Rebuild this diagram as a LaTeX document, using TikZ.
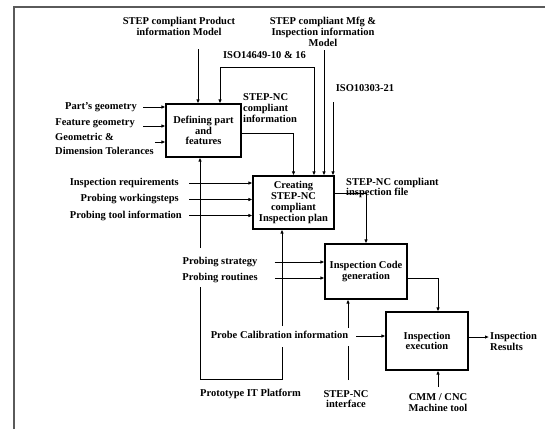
\documentclass[tikz,border=0pt]{standalone}
\usepackage{fontspec}
\setmainfont{Liberation Serif}
\usetikzlibrary{arrows.meta}

\tikzset{
  txt/.style={font=\bfseries\fontsize{10.5}{10.8}\selectfont, inner sep=1pt, align=center},
  stage/.style={txt, draw, line width=1.1pt, inner sep=0pt},
  flow/.style={line width=0.9pt, -{Latex[length=4pt,width=3.5pt]}},
  wire/.style={line width=0.9pt}
}

\begin{document}
\begin{tikzpicture}[x=1pt,y=-1pt]

    \definecolor{framegray}{RGB}{90,90,90}
    \useasboundingbox (0,0) rectangle (545,429);

    % Draw the frame on the top and left side
    \draw[framegray, line width=1.4pt] (14,429) -- (14,7) -- (545,7);

    % Draw the four activity boxes
    \node[stage, minimum width=75pt, minimum height=53pt] (define) at (203.5,130.5) {Defining part\\and\\features};
    \node[stage, minimum width=81pt, minimum height=53pt] (plan) at (293.5,202.5) {Creating\\STEP-NC\\compliant\\Inspection plan};
    \node[stage, minimum width=82pt, minimum height=55pt] (code) at (366,271.5) {Inspection Code\\generation};
    \node[stage, minimum width=82pt, minimum height=58pt] (exec) at (427,341) {Inspection\\execution};

    % Draw the controls on top
    \node[txt] (prodmodel) at (179,26.5) {STEP compliant Product\\information Model};
    \node[txt] (mfgmodel) at (323,32) {STEP compliant Mfg \&\\Inspection information\\Model};
    \node[txt] (isopart) at (264.5,55) {ISO14649-10 \& 16};
    \node[txt] (isofile) at (365,88) {ISO10303-21};
    \node[txt, anchor=west, align=left] (ncinfo) at (242,108) {STEP-NC\\compliant\\information};
    \node[txt, anchor=west, align=left] (ncfile) at (345,188) {STEP-NC compliant\\inspection file};

    \coordinate (pm) at (198,49);
    \coordinate (isoL) at (220,67);
    \coordinate (isoR) at (314,67);
    \coordinate (mm) at (324,50);
    \coordinate (iso3) at (333,102);

    \draw[flow] (pm) -- (pm |- define.north);
    \draw[wire, {Latex[length=4pt,width=3.5pt]}-{Latex[length=4pt,width=3.5pt]}] (isoL |- define.north) -- (isoL) -- (isoR) -- (isoR |- plan.north);
    \draw[flow] (mm) -- (mm |- plan.north);
    \draw[flow] (iso3) -- (iso3 |- plan.north);
    \draw[flow] ([yshift=-2.5pt]define.east) -| (plan.north);

    % Draw the inputs of the first box
    \node[txt, anchor=east] (partgeo) at (138,107) {Part's geometry};
    \node[txt, anchor=east] (featgeo) at (136,123) {Feature geometry};
    \node[txt, anchor=west, align=left] (tolerance) at (54,144) {Geometric \&\\[3pt]Dimension Tolerances};

    \draw[flow] ([xshift=5pt]partgeo.east) -- (partgeo.east -| define.west);
    \draw[flow] ([xshift=7pt]featgeo.east |- 0,126) -- (define.west |- 0,126);
    \draw[flow] ([yshift=2pt]tolerance.east) -- ([yshift=2pt]tolerance.east -| define.west);

    % Draw the inputs of the second box
    \node[txt, anchor=east] (inspreq) at (180,183) {Inspection requirements};
    \node[txt, anchor=east] (workstep) at (180,199.5) {Probing workingsteps};
    \node[txt, anchor=east] (probetool) at (183,215.5) {Probing tool information};

    \draw[flow] ([xshift=9pt]inspreq.east) -- (inspreq.east -| plan.west);
    \draw[flow] ([xshift=9pt]inspreq.east |- workstep.east) -- (workstep.east -| plan.west);
    \draw[flow] ([xshift=6pt]probetool.east) -- (probetool.east -| plan.west);

    % Draw the inputs of the third box
    \node[txt] (strategy) at (220,262) {Probing strategy};
    \node[txt] (routine) at (220,278) {Probing routines};

    \draw[flow] ([xshift=16pt]strategy.east) -- (strategy.east -| code.west);
    \draw[flow] ([xshift=16pt]routine.east) -- (routine.east -| code.west);

    % Draw the mechanisms at the bottom
    \node[txt] (calib) at (279.5,335) {Probe Calibration information};
    \node[txt] (platform) at (250.5,394) {Prototype IT Platform};
    \node[txt] (ncif) at (346,399) {STEP-NC\\interface};
    \node[txt] (cmm) at (438,402.5) {CMM / CNC\\Machine tool};

    \coordinate (pfT) at (200,248);
    \coordinate (pfB) at (200,287);
    \coordinate (pfL) at (200,379);
    \coordinate (pfR) at (282,379);
    \coordinate (pfUp) at (282,326);
    \coordinate (pfLow) at (282,347);

    \draw[flow] (pfT) -- (pfT |- define.south);
    \draw[wire] (pfB) -- (pfL) -- (pfR) -- (pfLow);
    \draw[flow] (pfUp) -- (pfUp |- plan.south);

    \coordinate (niUp) at (348,328);
    \coordinate (niLow) at (348,346);
    \coordinate (niEnd) at (348,380);
    \draw[flow] (niUp) -- (niUp |- code.south);
    \draw[wire] (niEnd) -- (niLow);

    \coordinate (ca) at (356,336);
    \draw[flow] (ca) -- (ca -| exec.west);

    \coordinate (cm) at (438,387);
    \draw[flow] (cm) -- (cm |- exec.south);

    % Draw the flow between the boxes and the output
    \draw[flow] ([yshift=9.5pt]plan.east) -| (code.north);
    \draw[flow] ([yshift=-6.5pt]code.east) -| ([xshift=11pt]exec.north);

    \node[txt, anchor=west, align=left] (results) at (489,341.5) {Inspection\\Results};
    \draw[flow] ([yshift=4pt]exec.east) -- ([yshift=4pt]exec.east -| results.west);

\end{tikzpicture}
\end{document}
